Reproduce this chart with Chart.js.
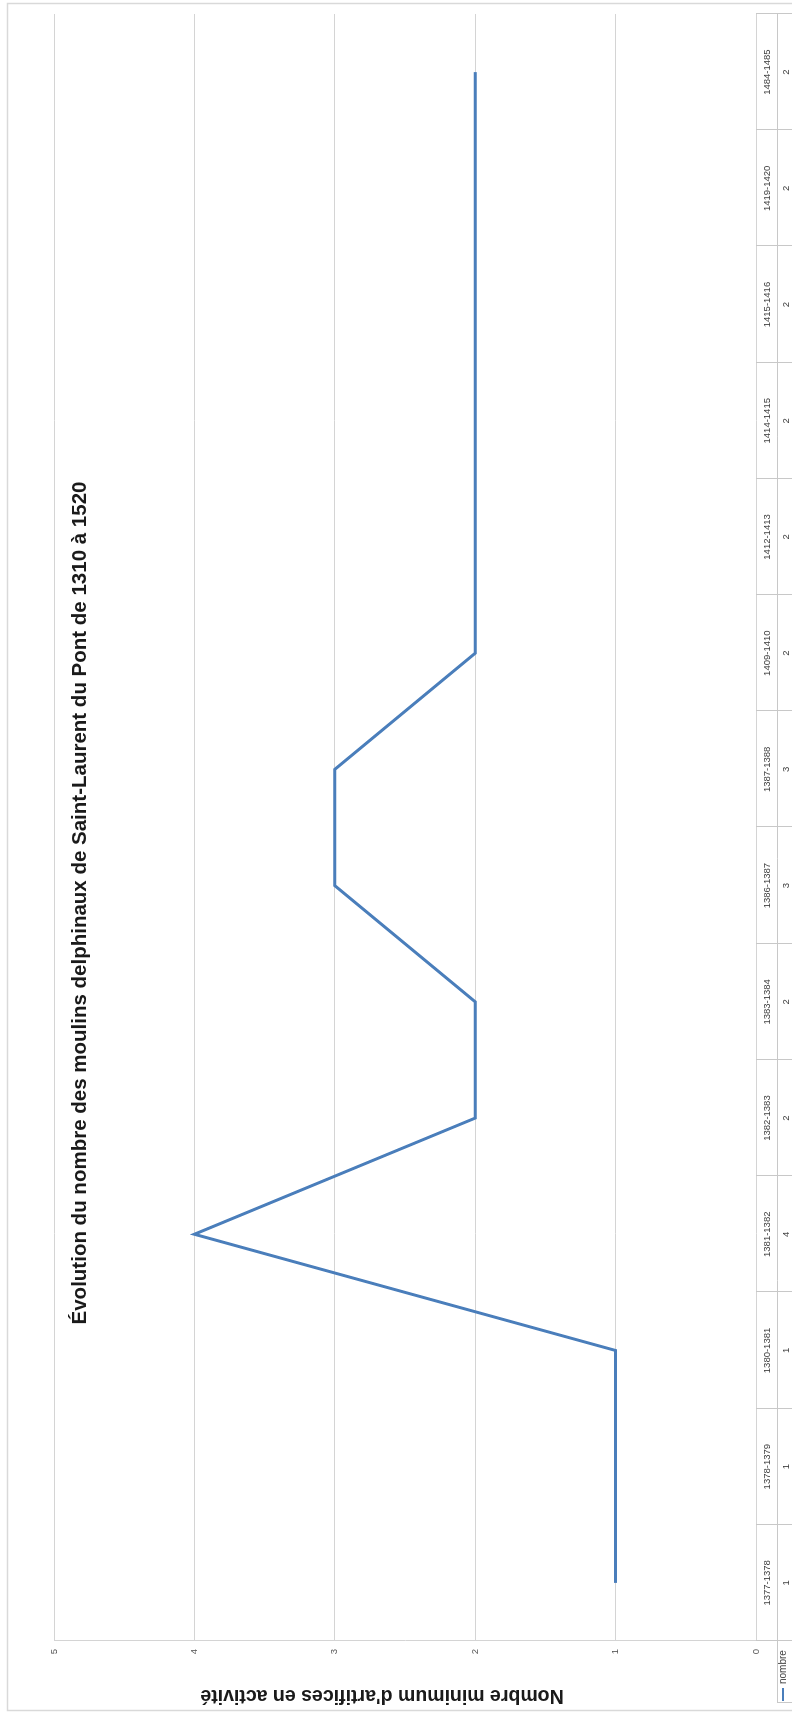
<!DOCTYPE html>
<html>
<head>
<meta charset="utf-8">
<script src="https://cdn.jsdelivr.net/npm/chart.js@4/dist/chart.umd.min.js"></script>
<style>
  html, body { margin: 0; padding: 0; background: #ffffff; overflow: hidden; }
  #wrap {
    position: absolute; left: 0; top: 0;
    width: 1713px; height: 792px;
    transform-origin: 0 0;
    transform: translate(0, 1713px) rotate(-90deg);
  }
</style>
</head>
<body>
<div id="wrap"><canvas id="c" width="1713" height="792"></canvas></div>
<script>
const chartTitle = "Évolution du nombre des moulins delphinaux de Saint-Laurent du Pont de 1310 à 1520";
const yAxisTitle = "Nombre minimum d'artifices en activité";
const seriesName = "nombre";
const categories = ["1377-1378","1378-1379","1380-1381","1381-1382","1382-1383","1383-1384","1386-1387","1387-1388","1409-1410","1412-1413","1414-1415","1415-1416","1419-1420","1484-1485"];
const nombre = [1,1,1,4,2,2,3,3,2,2,2,2,2,2];
const yTicks = [0,1,2,3,4,5];

const LINE_COLOR = '#4a7ebb';
const GRID_COLOR = '#d4d4d4';

const decorPlugin = {
  id: 'decor',
  beforeDraw(chart) {
    const ctx = chart.ctx;
    ctx.save();
    ctx.fillStyle = '#ffffff';
    ctx.fillRect(0, 0, chart.width, chart.height);
    ctx.restore();
  },
  afterDraw(chart) {
    const ctx = chart.ctx;
    const area = chart.chartArea;
    const n = categories.length;
    const band = (area.right - area.left) / n;
    const tTop = area.bottom, rowSep = area.bottom + 21, tBottom = area.bottom + 40;
    ctx.save();
    // outer border
    ctx.strokeStyle = '#d9d9d9';
    ctx.lineWidth = 1.5;
    ctx.strokeRect(2.5, 7.5, 1707, 800);
    // data table lines
    ctx.strokeStyle = '#c8c8c8';
    ctx.lineWidth = 1;
    ctx.beginPath();
    for (let i = 0; i <= n; i++) {
      const X = Math.round(area.left + i * band) + 0.5;
      ctx.moveTo(X, tTop); ctx.lineTo(X, tBottom);
    }
    ctx.moveTo(10.5, rowSep + 0.5); ctx.lineTo(area.right, rowSep + 0.5);
    ctx.moveTo(10.5, rowSep); ctx.lineTo(10.5, tBottom);
    ctx.moveTo(10, tBottom - 0.5); ctx.lineTo(area.right, tBottom - 0.5);
    ctx.stroke();
    // table text
    ctx.fillStyle = '#404040';
    ctx.font = '9.5px "Liberation Sans", Arial, sans-serif';
    ctx.textAlign = 'center';
    ctx.textBaseline = 'middle';
    const xs = chart.scales.x;
    for (let i = 0; i < n; i++) {
      const X = xs.getPixelForValue(i);
      ctx.fillText(categories[i], X, tTop + 11);
      ctx.fillText(String(nombre[i]), X, rowSep + 9);
    }
    // legend key + series name
    ctx.strokeStyle = LINE_COLOR;
    ctx.lineWidth = 2;
    ctx.beginPath();
    ctx.moveTo(12, rowSep + 6); ctx.lineTo(25, rowSep + 6);
    ctx.stroke();
    ctx.textAlign = 'left';
    ctx.font = '10px "Liberation Sans", Arial, sans-serif';
    ctx.fillText(seriesName, 29, rowSep + 6);
    // chart title (overlay)
    ctx.fillStyle = '#1a1a1a';
    ctx.font = 'bold 20.5px "Liberation Sans", Arial, sans-serif';
    ctx.textAlign = 'center';
    ctx.fillText(chartTitle, 810, 80);
    // y axis title
    ctx.translate(18, 382);
    ctx.rotate(-Math.PI / 2);
    ctx.font = 'bold 19.5px "Liberation Sans", Arial, sans-serif';
    ctx.fillText(yAxisTitle, 0, 0);
    ctx.restore();
  }
};

new Chart(document.getElementById('c'), {
  type: 'line',
  data: {
    labels: categories,
    datasets: [{
      label: seriesName,
      data: nombre,
      borderColor: LINE_COLOR,
      backgroundColor: LINE_COLOR,
      borderWidth: 3,
      pointRadius: 0,
      tension: 0,
      fill: false
    }]
  },
  options: {
    responsive: false,
    animation: false,
    devicePixelRatio: 1,
    layout: { padding: { left: 0, right: 14, top: 54, bottom: 36 } },
    plugins: { legend: { display: false }, title: { display: false }, tooltip: { enabled: false } },
    scales: {
      x: { type: 'category', offset: true, display: false },
      y: {
        min: 0, max: 5,
        afterFit(scale) { scale.width = 72; },
        afterBuildTicks(scale) { scale.ticks = yTicks.map(v => ({ value: v })); },
        ticks: {
          stepSize: 1, padding: 8, color: '#595959',
          font: { family: '"Liberation Sans", Arial, sans-serif', size: 9.5 }
        },
        grid: { color: GRID_COLOR, lineWidth: 1, drawTicks: false },
        border: { display: true, color: GRID_COLOR, width: 1 }
      }
    }
  },
  plugins: [decorPlugin]
});
</script>
</body>
</html>
